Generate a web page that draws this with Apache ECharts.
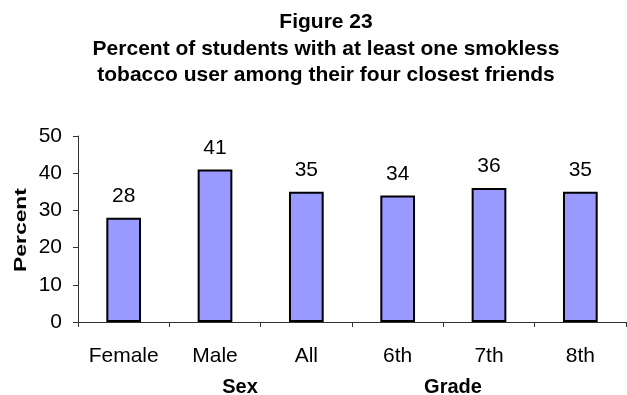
<!DOCTYPE html>
<html>
<head>
<meta charset="utf-8">
<script src="https://cdn.jsdelivr.net/npm/echarts@6/dist/echarts.min.js"></script>
<style>
  html, body { margin: 0; padding: 0; background: #fff; }
  #chart { width: 627px; height: 395px; }
</style>
</head>
<body>
<div id="chart"></div>
<script>
// Bar categories and their values (percent)
const categories = ['Female', 'Male', 'All', '6th', '7th', '8th'];
const percentValues = [28, 41, 35, 34, 36, 35];
const yTicks = { min: 0, max: 50, interval: 10 };
const titleLines = [
  'Figure 23',
  'Percent of students with at least one smokless',
  'tobacco user among their four closest friends'
];
const yAxisTitle = 'Percent';
const groupLabels = ['Sex', 'Grade'];

const FONT = '"Liberation Sans", Arial, sans-serif';
const chart = echarts.init(document.getElementById('chart'), null, { renderer: 'canvas' });

chart.setOption({
  animation: false,
  backgroundColor: '#ffffff',
  title: {
    text: titleLines.join('\n'),
    left: 321,
    textAlign: 'center',
    top: 4,
    textStyle: {
      fontFamily: FONT,
      fontSize: 21,
      fontWeight: 'bold',
      color: '#000',
      lineHeight: 26.5
    }
  },
  grid: { left: 78, right: 1, top: 136, bottom: 73 },
  xAxis: {
    type: 'category',
    data: categories,
    axisLine: { lineStyle: { color: '#333', width: 1 } },
    axisTick: { show: true, length: 5, lineStyle: { color: '#333' } },
    axisLabel: { fontFamily: FONT, fontSize: 21, color: '#000', margin: 24 }
  },
  yAxis: {
    type: 'value',
    min: yTicks.min,
    max: yTicks.max,
    interval: yTicks.interval,
    axisLine: { show: true, lineStyle: { color: '#333', width: 1 } },
    axisTick: { show: true, length: 5, lineStyle: { color: '#333' } },
    splitLine: { show: false },
    axisLabel: { fontFamily: FONT, fontSize: 21, color: '#000', margin: 16 }
  },
  series: [{
    type: 'bar',
    data: percentValues,
    barWidth: '38%',
    itemStyle: { color: '#9999FF', borderColor: '#000', borderWidth: 2 },
    label: {
      show: true,
      position: 'top',
      distance: 11,
      fontFamily: FONT,
      fontSize: 21,
      color: '#000'
    }
  }],
  graphic: [
    // vertical axis title, drawn wide along its run
    {
      type: 'text', x: 22, y: 230, rotation: Math.PI / 2, scaleX: 1.43,
      style: { text: yAxisTitle, font: 'bold 16px ' + FONT, fill: '#000', align: 'center', verticalAlign: 'middle' }
    },
    { type: 'text', x: 240, y: 387, style: { text: groupLabels[0], font: 'bold 20px ' + FONT, fill: '#000', align: 'center', verticalAlign: 'middle' } },
    { type: 'text', x: 453, y: 387, style: { text: groupLabels[1], font: 'bold 20px ' + FONT, fill: '#000', align: 'center', verticalAlign: 'middle' } }
  ]
});
</script>
</body>
</html>
